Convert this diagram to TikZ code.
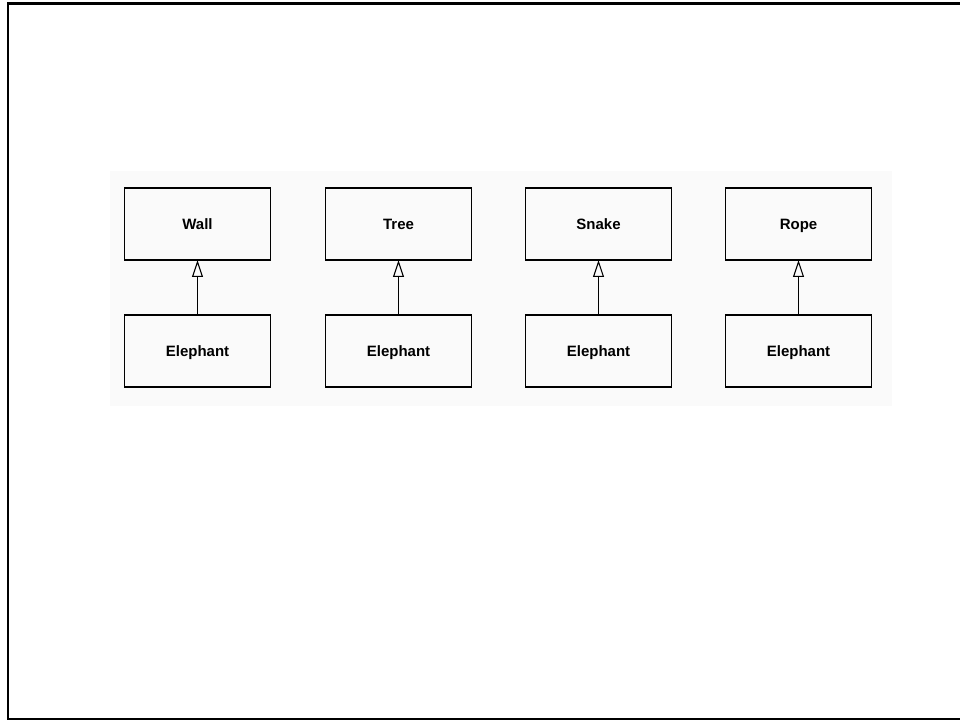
\documentclass[tikz,border=0pt]{standalone}
\usepackage{fontspec}
\setsansfont{Liberation Sans}
\usetikzlibrary{positioning,arrows.meta}

\tikzset{
  classbox/.style = {draw=black, line width=1.3pt, minimum width=146pt, minimum height=72pt,
                     inner sep=0pt, outer sep=0pt, text height=13pt, text depth=2pt,
                     font=\sffamily\bfseries\fontsize{15}{18}\selectfont},
  inherits/.style = {black, line width=1.3pt, -{Triangle[open, length=17pt, width=11pt, line width=1.1pt]}}
}

\begin{document}
\begin{tikzpicture}[x=1pt, y=1pt]
                \useasboundingbox (0,0) rectangle (960,721);
                \fill[black!2] (110,315) rectangle (892,550);
                \draw[black, line width=2.8pt] (963,717.5) -- (8,717.5) -- (8,2) -- (963,2);

                \node[classbox] (wall) at (197.5,497) {Wall};
                \node[classbox, right=55pt of wall] (tree) {Tree};
                \node[classbox, right=54pt of tree] (snake) {Snake};
                \node[classbox, right=54pt of snake] (rope) {Rope};

                \node[classbox, below=55pt of wall] (elephantA) {Elephant};
                \node[classbox, below=55pt of tree] (elephantB) {Elephant};
                \node[classbox, below=55pt of snake] (elephantC) {Elephant};
                \node[classbox, below=55pt of rope] (elephantD) {Elephant};

                \draw[inherits] (elephantA) -- (wall);
                \draw[inherits] (elephantB) -- (tree);
                \draw[inherits] (elephantC) -- (snake);
                \draw[inherits] (elephantD) -- (rope);
\end{tikzpicture}
\end{document}
